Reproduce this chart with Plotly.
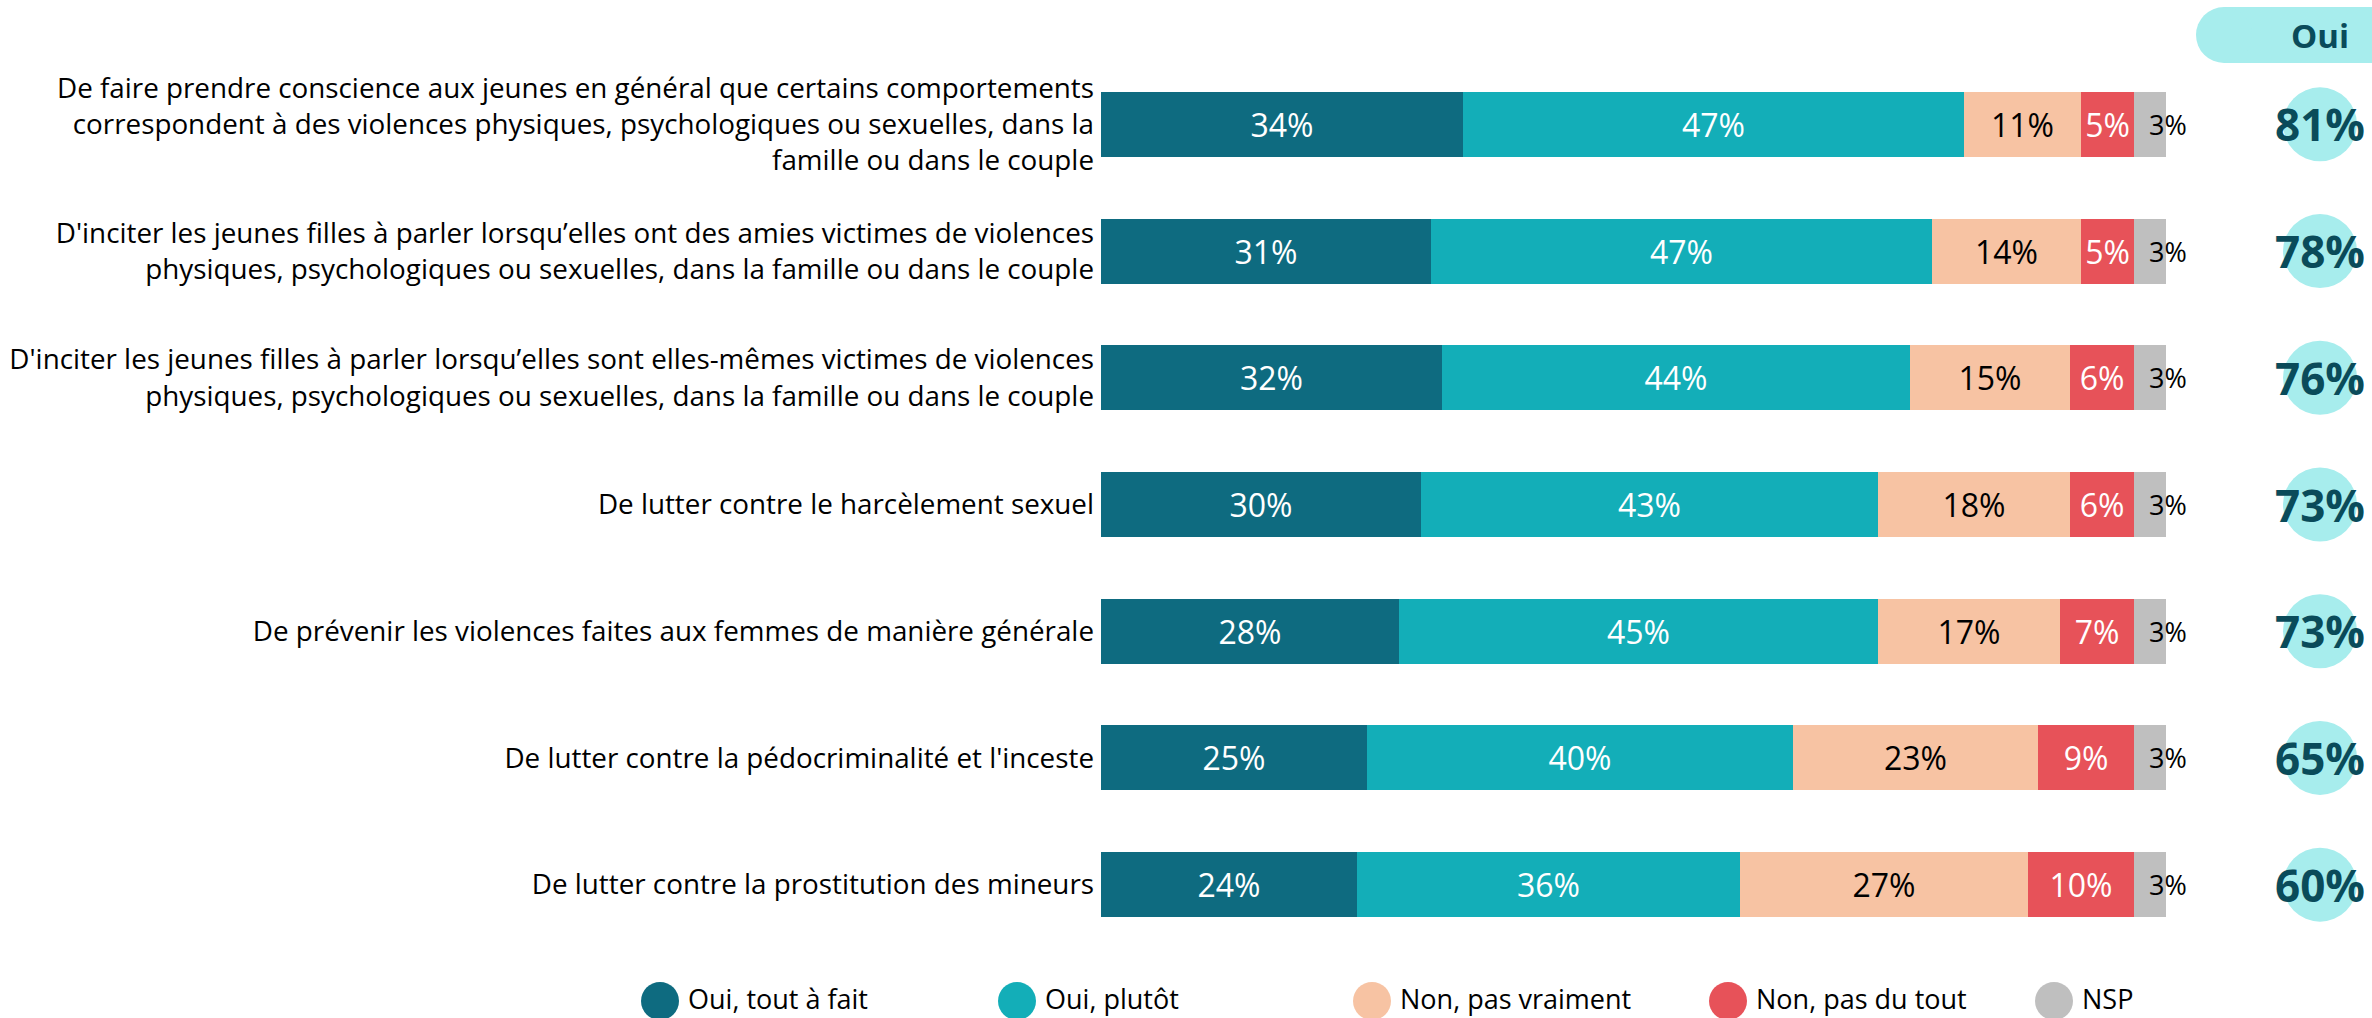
import plotly.graph_objects as go

categories = [
    "De faire prendre conscience aux jeunes en général que certains comportements<br>correspondent à des violences physiques, psychologiques ou sexuelles, dans la<br>famille ou dans le couple",
    "D'inciter les jeunes filles à parler lorsqu’elles ont des amies victimes de violences<br>physiques, psychologiques ou sexuelles, dans la famille ou dans le couple",
    "D'inciter les jeunes filles à parler lorsqu’elles sont elles-mêmes victimes de violences<br>physiques, psychologiques ou sexuelles, dans la famille ou dans le couple",
    "De lutter contre le harcèlement sexuel",
    "De prévenir les violences faites aux femmes de manière générale",
    "De lutter contre la pédocriminalité et l'inceste",
    "De lutter contre la prostitution des mineurs",
]
series_names = ["Oui, tout à fait", "Oui, plutôt", "Non, pas vraiment", "Non, pas du tout", "NSP"]
oui_tout_a_fait = [34, 31, 32, 30, 28, 25, 24]
oui_plutot = [47, 47, 44, 43, 45, 40, 36]
non_pas_vraiment = [11, 14, 15, 18, 17, 23, 27]
non_pas_du_tout = [5, 5, 6, 6, 7, 9, 10]
nsp = [3, 3, 3, 3, 3, 3, 3]
oui_total = [81, 78, 76, 73, 73, 65, 60]

series = [oui_tout_a_fait, oui_plutot, non_pas_vraiment, non_pas_du_tout, nsp]
colors = ["#0E6B80", "#13AEB8", "#F7C3A3", "#E75259", "#BFBFBF"]
text_colors = ["white", "white", "black", "white", "black"]

FONT = "Open Sans"
W, H = 2372, 1018
ML, MR, MT, MB = 1101, 206, 61, 70
PW, PH = W - ML - MR, H - MT - MB


def px_x(px):
    return (px - ML) / PW


def px_y(py):
    return (H - MB - py) / PH


ypos = list(range(len(categories)))

fig = go.Figure()
for name, vals, col, tcol in zip(series_names, series, colors, text_colors):
    is_nsp = name == "NSP"
    fig.add_trace(go.Bar(
        y=ypos, x=vals, orientation="h", name=name,
        marker=dict(color=col, line=dict(width=0)),
        width=0.513,
        text=None if is_nsp else [f"{v}%" for v in vals],
        textposition="inside", insidetextanchor="middle",
        textfont=dict(family=FONT, size=32, color=tcol),
        showlegend=False, hoverinfo="skip",
    ))

shapes = []
annotations = []

# NSP labels at end of bar
for i, vals in enumerate(zip(*series)):
    total = sum(vals)
    annotations.append(dict(
        x=total, y=i, xref="x", yref="y", text=f"{nsp[i]}%", showarrow=False,
        xanchor="center", yanchor="middle", xshift=2,
        font=dict(family=FONT, size=27, color="black"),
    ))

# Oui circles
cx = px_x(2320)
for i, v in enumerate(oui_total):
    shapes.append(dict(
        type="circle", xref="paper", yref="y", xsizemode="pixel", ysizemode="pixel",
        xanchor=cx, yanchor=i, x0=-37, x1=37, y0=-37, y1=37,
        fillcolor="#A7EDED", line=dict(width=0), layer="below",
    ))
    annotations.append(dict(
        x=cx, y=i, xref="paper", yref="y", text=f"<b>{v}%</b>", showarrow=False,
        xanchor="center", yanchor="middle",
        font=dict(family=FONT, size=44, color="#0A4B5A"),
    ))

# Oui header pill
shapes.append(dict(
    type="rect", xref="paper", yref="paper",
    x0=px_x(2224), x1=px_x(2400), y0=px_y(63), y1=px_y(7),
    fillcolor="#A7EDED", line=dict(width=0), layer="below",
))
shapes.append(dict(
    type="circle", xref="paper", yref="paper", xsizemode="pixel", ysizemode="pixel",
    xanchor=px_x(2224), yanchor=px_y(35), x0=-28, x1=28, y0=-28, y1=28,
    fillcolor="#A7EDED", line=dict(width=0), layer="below",
))
annotations.append(dict(
    x=px_x(2320), y=px_y(35), xref="paper", yref="paper", text="<b>Oui</b>",
    showarrow=False, xanchor="center", yanchor="middle",
    font=dict(family=FONT, size=33, color="#0A4B5A"),
))

# Custom legend
legend_x = [660, 1017, 1372, 1728, 2054]
ly = px_y(1001)
lty = px_y(998)
for name, col, lx in zip(series_names, colors, legend_x):
    shapes.append(dict(
        type="circle", xref="paper", yref="paper", xsizemode="pixel", ysizemode="pixel",
        xanchor=px_x(lx), yanchor=ly, x0=-19, x1=19, y0=-19, y1=19,
        fillcolor=col, line=dict(width=0),
    ))
    annotations.append(dict(
        x=px_x(lx + 26), y=lty, xref="paper", yref="paper", text=name, showarrow=False,
        xanchor="left", yanchor="middle",
        font=dict(family=FONT, size=27, color="black"),
    ))

fig.update_layout(
    barmode="stack",
    width=W, height=H,
    margin=dict(l=ML, r=MR, t=MT, b=MB, autoexpand=False),
    paper_bgcolor="white", plot_bgcolor="white",
    font=dict(family=FONT, color="black"),
    xaxis=dict(range=[0, 100], visible=False, fixedrange=True),
    yaxis=dict(
        tickvals=ypos, ticktext=categories, range=[6.5, -0.5],
        showgrid=False, zeroline=False, showline=False, ticks="",
        tickfont=dict(family=FONT, size=27.8, color="black"),
        automargin=False, ticklabelstandoff=6, fixedrange=True,
    ),
    uniformtext=dict(minsize=32, mode="show"),
    shapes=shapes,
    annotations=annotations,
    showlegend=False,
    bargap=0,
)

fig.write_html(
    "out.html",
    config={"displayModeBar": False},
    post_script="document.body.style.margin='0';document.body.style.overflow='hidden';",
)
